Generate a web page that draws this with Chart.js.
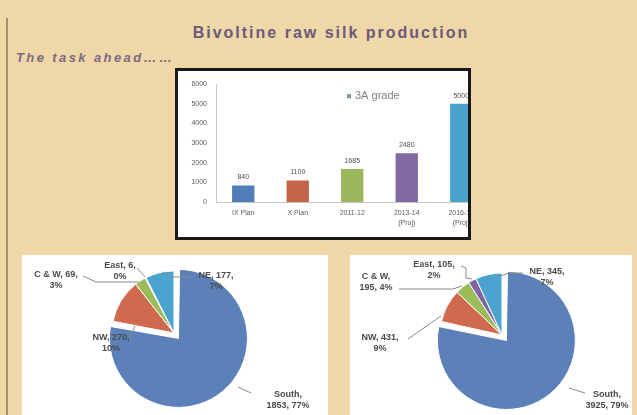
<!DOCTYPE html>
<html><head><meta charset="utf-8">
<script src="https://cdn.jsdelivr.net/npm/chart.js@4.4.0/dist/chart.umd.min.js"></script>
<style>
html,body{margin:0;padding:0;}
body{width:637px;height:415px;overflow:hidden;background:#efd7a7;position:relative;font-family:'Liberation Sans',Arial,sans-serif;}
#edge{position:absolute;left:6px;top:18px;width:2px;height:397px;background:#a48d68;}
#title{position:absolute;left:0;top:24px;width:662px;text-align:center;font-weight:bold;font-size:16px;letter-spacing:2px;color:#6a5a7a;line-height:18px;}
#sub{position:absolute;left:16px;top:51px;font-style:italic;font-weight:bold;font-size:13px;color:#7a6a86;letter-spacing:2.4px;line-height:14px;}
#barbox{position:absolute;left:175px;top:68px;width:296px;height:172px;box-sizing:border-box;border:3px solid #1a1a1a;background:#fff;overflow:hidden;}
#barbox canvas{position:absolute;left:0;top:0;}
.pie{position:absolute;background:#fff;top:255px;height:160px;overflow:hidden;}
.pie canvas{position:absolute;left:0;top:0;}
</style></head>
<body>
<div id="edge"></div>
<div id="title">Bivoltine raw silk production</div>
<div id="sub">The task ahead……</div>
<div id="barbox"><canvas id="bar" width="330" height="166"></canvas></div>
<div class="pie" style="left:22px;width:306px;"><canvas id="pieL" width="306" height="165"></canvas></div>
<div class="pie" style="left:350px;width:282px;"><canvas id="pieR" width="282" height="165"></canvas></div>
<script>
// ---- data ----
const categories = ['IX Plan', 'X Plan', '2011-12', '2013-14 (Proj)', '2016-17 (Proj)'];
const production = [840, 1100, 1685, 2480, 5000];
const seriesName = '3A grade';
const yTicks = [0, 1000, 2000, 3000, 4000, 5000, 6000];

const regions = ['South', 'NW', 'C & W', 'East', 'NE'];
const valuesLeft = [1853, 270, 69, 6, 177];
const pctLeft = ['77%', '10%', '3%', '0%', '7%'];
const valuesRight = [3925, 431, 195, 105, 345];
const pctRight = ['79%', '9%', '4%', '2%', '7%'];

// ---- styles ----
const barColors = ['#4f7db8', '#c4654b', '#9bb75c', '#8068a0', '#4aa3cc'];
const pieColors = ['#5b81b8', '#cf6a4e', '#9bbb59', '#8064a2', '#4ba4cf'];
const FONT = "'Liberation Sans', Arial, sans-serif";

const barValues = {
  id: 'barValues',
  afterDatasetsDraw(chart) {
    const ctx = chart.ctx;
    const meta = chart.getDatasetMeta(0);
    ctx.save();
    ctx.font = '7px ' + FONT;
    ctx.fillStyle = '#505050';
    ctx.textAlign = 'center';
    ctx.textBaseline = 'middle';
    meta.data.forEach((bar, i) => {
      ctx.fillText(String(chart.data.datasets[0].data[i]), bar.x, bar.y - 8);
    });
    // legend
    const a = chart.chartArea;
    const lx = a.left + 131, ly = a.top + 12;
    ctx.fillStyle = '#7d8fa8';
    ctx.fillRect(lx, ly - 2, 4, 4);
    ctx.font = '11px ' + FONT;
    ctx.fillStyle = '#808080';
    ctx.textAlign = 'left';
    ctx.fillText(chart.data.datasets[0].label, lx + 8, ly);
    ctx.restore();
  }
};

new Chart(document.getElementById('bar'), {
  type: 'bar',
  data: {
    labels: categories.map(c => c.split(' ')).map(p => p.length > 2 || p[1] === 'Plan' ? [p.join(' ')] : p),
    datasets: [{label: seriesName, data: production, backgroundColor: barColors,
      barPercentage: 0.41, categoryPercentage: 1}]
  },
  options: {
    responsive: false, animation: false, events: [],
    layout: {padding: {left: 2, top: 11, right: 19.5, bottom: 0}},
    plugins: {legend: {display: false}, tooltip: {enabled: false}},
    scales: {
      x: {
        grid: {display: false, drawTicks: false},
        border: {display: true, color: '#c8c8c8'},
        ticks: {font: {size: 7, family: FONT, lineHeight: 1.4}, color: '#5a5a5a', padding: 6, maxRotation: 0, autoSkip: false},
        afterFit(s) { s.height = 35; }
      },
      y: {
        min: yTicks[0], max: yTicks[yTicks.length - 1],
        afterBuildTicks(s) { s.ticks = yTicks.map(v => ({value: v})); },
        grid: {display: false, drawTicks: false},
        border: {display: true, color: '#c8c8c8'},
        ticks: {font: {size: 7, family: FONT}, color: '#5a5a5a', padding: 9, callback: v => String(v)},
        afterFit(s) { s.width = 36; }
      }
    }
  },
  plugins: [barValues]
});

const sliceLabels = {
  id: 'sliceLabels',
  afterDatasetsDraw(chart, args, opts) {
    const ctx = chart.ctx;
    const arcs = chart.getDatasetMeta(0).data;
    const cx = arcs[0].x, cy = arcs[0].y;
    const vals = chart.data.datasets[0].data;
    ctx.save();
    opts.items.forEach((it, i) => {
      ctx.strokeStyle = '#8a8a8a';
      ctx.lineWidth = 1;
      ctx.beginPath();
      it.lead.forEach((p, j) => {
        if (j === 0) ctx.moveTo(cx + p[0], cy + p[1]); else ctx.lineTo(cx + p[0], cy + p[1]);
      });
      ctx.stroke();
      const parts = [chart.data.labels[i], String(vals[i]), opts.pcts[i]];
      const l1 = parts.slice(0, it.k).join(', ') + ',';
      const l2 = parts.slice(it.k).join(', ');
      ctx.font = 'bold 9px ' + FONT;
      ctx.fillStyle = '#4a4a4a';
      ctx.textAlign = 'center';
      ctx.textBaseline = 'middle';
      ctx.fillText(l1, cx + it.dx, cy + it.dy);
      ctx.fillText(l2, cx + it.dx, cy + it.dy + 11);
    });
    ctx.restore();
  }
};

function makePie(id, values, pcts, padding, items) {
  new Chart(document.getElementById(id), {
    type: 'pie',
    data: {labels: regions, datasets: [{data: values, backgroundColor: pieColors,
      borderColor: '#ffffff', borderWidth: 1, offset: [28, 0, 0, 0, 0], hoverOffset: 0}]},
    options: {
      responsive: false, animation: false, events: [],
      layout: {padding},
      plugins: {legend: {display: false}, tooltip: {enabled: false}, sliceLabels: {pcts, items}}
    },
    plugins: [sliceLabels]
  });
}

makePie('pieL', valuesLeft, pctLeft, {left: 75.5, top: 1.5, right: 77.5, bottom: 10.5}, [
  {k: 1, dx: 114, dy: 62, lead: [[77, 60], [64, 54]]},
  {k: 2, dx: -63, dy: 5, lead: [[-45, 6], [-39, -7]]},
  {k: 2, dx: -118, dy: -58, lead: [[-91, -57], [-78, -51], [-35, -51]]},
  {k: 2, dx: -54, dy: -67, lead: [[-37, -65], [-29, -56]]},
  {k: 2, dx: 42, dy: -57, lead: [[19, -56], [-2, -56], [-12, -61]]}
]);

makePie('pieR', valuesRight, pctRight, {left: 75.5, top: 3.5, right: 53.5, bottom: 8.5}, [
  {k: 1, dx: 105, dy: 60, lead: [[83, 58], [67, 53]]},
  {k: 2, dx: -122, dy: 3, lead: [[-94, 4], [-61, -19]]},
  {k: 1, dx: -126, dy: -58, lead: [[-103, -46], [-49, -46], [-40, -49]]},
  {k: 2, dx: -68, dy: -70, lead: [[-41, -69], [-36, -67], [-36, -57], [-30, -56]]},
  {k: 2, dx: 45, dy: -63, lead: [[21, -62], [7, -62], [-4, -58]]}
]);
</script>
</body></html>
